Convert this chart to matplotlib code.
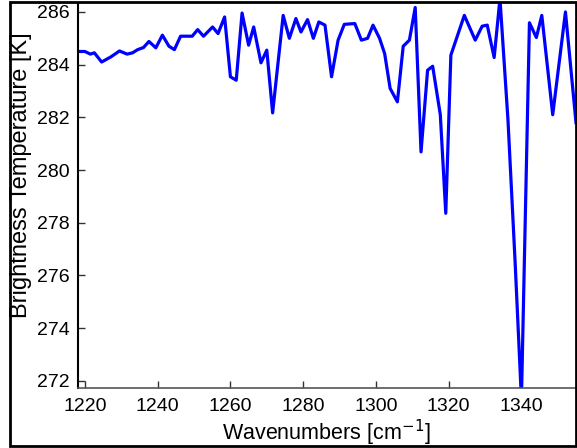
import matplotlib
matplotlib.use("Agg")
import matplotlib.pyplot as plt
from matplotlib.patches import Rectangle

wavenumber = [1218.1, 1220.0, 1221.5, 1222.6, 1224.6, 1227.2, 1229.5, 1231.6, 1233.1, 1234.5,
              1236.1, 1237.6, 1239.5, 1241.3, 1243.1, 1244.6, 1246.3, 1249.5, 1251.0, 1252.6,
              1255.1, 1256.6, 1258.4, 1260.0, 1261.6, 1263.2, 1265.0, 1266.4, 1268.4, 1270.0,
              1271.6, 1274.5, 1276.2, 1278.0, 1279.4, 1281.2, 1282.8, 1284.3, 1286.0, 1287.8,
              1289.6, 1291.3, 1294.2, 1296.0, 1297.7, 1299.2, 1301.0, 1302.4, 1303.9, 1305.9,
              1307.5, 1309.2, 1310.8, 1312.4, 1314.2, 1315.6, 1317.7, 1319.2, 1320.6, 1324.3,
              1327.3, 1329.2, 1330.6, 1332.5, 1334.1, 1336.3, 1338.3, 1340.0, 1342.2, 1344.1,
              1345.6, 1348.6, 1352.1, 1355.0]
brightness_temp = [284.50, 284.50, 284.40, 284.45, 284.10, 284.30, 284.52, 284.40, 284.45, 284.57,
                   284.65, 284.88, 284.64, 285.12, 284.70, 284.57, 285.08, 285.08, 285.33, 285.08,
                   285.43, 285.18, 285.81, 283.54, 283.41, 285.96, 284.74, 285.43, 284.07, 284.55,
                   282.17, 285.87, 285.00, 285.75, 285.24, 285.71, 285.00, 285.62, 285.50, 283.54,
                   284.93, 285.53, 285.56, 284.93, 285.00, 285.50, 285.00, 284.42, 283.10, 282.59,
                   284.70, 284.93, 286.17, 280.69, 283.79, 283.94, 282.10, 278.36, 284.36, 285.87,
                   284.93, 285.46, 285.50, 284.27, 286.50, 281.90, 276.40, 271.30, 285.59, 285.03,
                   285.87, 282.10, 286.00, 281.80]

xticks = [1220, 1240, 1260, 1280, 1300, 1320, 1340]
yticks = [272, 274, 276, 278, 280, 282, 284, 286]

plt.rcParams['font.family'] = ['Liberation Sans', 'DejaVu Sans']

fig = plt.figure(figsize=(5.77, 4.48), dpi=100)
ax = fig.add_axes([78/577, 1 - 388/448, (576 - 78)/577, (388 - 3)/448])

ax.plot(wavenumber, brightness_temp, color='#0000ff', linewidth=2.3)
ax.set_xlim(1218.1, 1355.0)
ax.set_ylim(271.73, 286.34)
ax.set_xticks(xticks)
ax.set_yticks(yticks)
ax.tick_params(direction='in', length=5, width=1, colors='#333333', labelcolor='black',
               labelsize=14, top=False, right=False)
ax.tick_params(axis='y', pad=6)
ax.tick_params(axis='x', pad=7)
for s in ['top', 'right']:
    ax.spines[s].set_visible(False)
ax.spines['left'].set_color('black')
ax.spines['left'].set_linewidth(1.5)
ax.spines['bottom'].set_color('#555555')
ax.spines['bottom'].set_linewidth(1.2)

fig.text(326/577, 1 - 433/448, 'Wavenumbers [cm$^{-1}$]', ha='center', va='center', fontsize=15.5)
fig.text(21/577, 1 - 175/448, 'Brightness Temperature [K]', ha='center', va='center',
         rotation=90, fontsize=17)

fig.patches.append(Rectangle((10/577, 1 - 446/448), (576 - 10)/577, (446 - 2)/448,
                             transform=fig.transFigure, fill=False, edgecolor='black',
                             linewidth=2))

fig.savefig('out.png', dpi=100)
